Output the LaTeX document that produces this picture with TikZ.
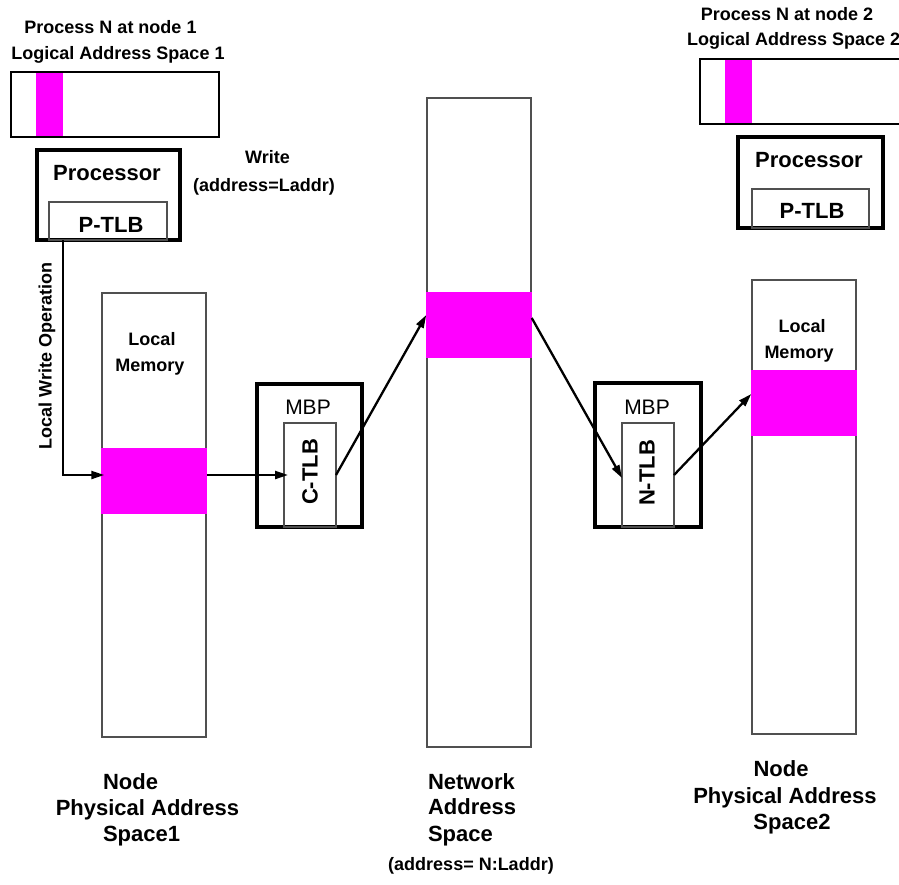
\documentclass[tikz,border=0pt]{standalone}
\usepackage{fontspec}
\setmainfont{Liberation Sans}
\usetikzlibrary{arrows.meta}
\definecolor{hot}{RGB}{255,0,255}
\definecolor{rim}{RGB}{80,80,80}

\begin{document}
\begin{tikzpicture}[x=1pt,y=-1pt,
  every node/.style={inner sep=0pt,outer sep=0pt},
  lbl/.style={font=\fontsize{18}{22}\selectfont\bfseries,anchor=base},
  big/.style={font=\fontsize{22}{26}\selectfont\bfseries,anchor=base},
  mbptext/.style={font=\fontsize{21}{25}\selectfont,anchor=base},
  column/.style={draw=rim,line width=1.7pt},
  strip/.style={fill=hot},
  thickbox/.style={draw=black,line width=3.3pt},
  thinbox/.style={draw=rim,line width=1.7pt},
  arr/.style={-{Triangle[length=13pt,width=8pt]},line width=2.3pt}
]
\useasboundingbox (0,0) rectangle (899,884);

% logical address spaces
\node[strip,minimum width=27pt,minimum height=65pt] (lmag1) at (49.5,104.5) {};
\node[draw=black,line width=1.5pt,minimum width=208pt,minimum height=65pt] (las1) at (115,104.5) {};
\node[strip,minimum width=27pt,minimum height=65pt] (lmag2) at (738.5,91.5) {};
\node[draw=black,line width=1.5pt,minimum width=210pt,minimum height=65pt] (las2) at (805,91.5) {};

\node[lbl] (t1a) at (110.5,33) {Process N at node 1};
\node[lbl] (t1b) at (118,59) {Logical Address Space 1};
\node[lbl] (t2a) at (787,20) {Process N at node 2};
\node[lbl,anchor=base west] (t2b) at (687,45) {Logical Address Space 2};

% processors
\node[thickbox,minimum width=143pt,minimum height=90pt] (proc1) at (108.5,195) {};
\node[thinbox,minimum width=118pt,minimum height=38pt] (ptlb1) at (108,221) {};
\node[big] (proc1t) at (107,180) {Processor};
\node[big] (ptlb1t) at (111,232) {P-TLB};

\node[thickbox,minimum width=145pt,minimum height=91pt] (proc2) at (810.5,182.5) {};
\node[thinbox,minimum width=117pt,minimum height=39pt] (ptlb2) at (810.5,208.5) {};
\node[big] (proc2t) at (809,167) {Processor};
\node[big] (ptlb2t) at (812,218) {P-TLB};

\node[lbl] (wr) at (267.5,163) {Write};
\node[lbl] (wra) at (264,191) {(address=Laddr)};

% memory columns
\node[column,minimum width=104pt,minimum height=444pt] (col1) at (154,515) {};
\node[strip,minimum width=105.5pt,minimum height=66pt] (mag1) at (154,481) {};
\node[column,minimum width=104pt,minimum height=649pt] (net) at (479,422.5) {};
\node[strip,minimum width=105.5pt,minimum height=66pt] (netmag) at (479,325) {};
\node[column,minimum width=104pt,minimum height=454pt] (col2) at (804,507) {};
\node[strip,minimum width=105.5pt,minimum height=66pt] (mag2) at (804,403) {};

\node[lbl] (lm1a) at (152,345) {Local};
\node[lbl] (lm1b) at (150,371) {Memory};
\node[lbl] (lm2a) at (802,332) {Local};
\node[lbl] (lm2b) at (799,358) {Memory};

% message buffer processors
\node[thickbox,minimum width=105pt,minimum height=143pt] (mbp1) at (309.5,455.5) {};
\node[thinbox,minimum width=52pt,minimum height=104pt] (ctlb) at (310,475) {};
\node[mbptext] (mbp1t) at (308,414) {MBP};
\node[font=\fontsize{22}{26}\selectfont\bfseries,rotate=90] (ctlbt) at (310,472) {C-TLB};

\node[thickbox,minimum width=106pt,minimum height=144pt] (mbp2) at (648,455) {};
\node[thinbox,minimum width=52pt,minimum height=104pt] (ntlb) at (648,475) {};
\node[mbptext] (mbp2t) at (647,414) {MBP};
\node[font=\fontsize{22}{26}\selectfont\bfseries,rotate=90] (ntlbt) at (647,473) {N-TLB};

% connectors
\draw[arr] ([xshift=14pt]ptlb1.south west) |- ([yshift=6pt,xshift=3pt]mag1.west);
\node[font=\fontsize{18}{22}\selectfont\bfseries,rotate=90] (lwo) at (47,356) {Local Write Operation};
\draw[arr] ([yshift=6pt]mag1.east) -- ([xshift=4pt]ctlb.west);
\draw[arr] (ctlb.east) -- ([yshift=10pt]netmag.west);
\draw[arr] ([yshift=7pt]netmag.east) -- ([yshift=-3pt]ntlb.west);
\draw[arr] (ntlb.east) -- ([yshift=9pt]mag2.west);

% captions
\node[big,anchor=base west] (c1a) at (103,789) {Node};
\node[big] (c1b) at (147.5,815) {Physical Address};
\node[big,anchor=base west] (c1c) at (103,841) {Space1};

\node[big,anchor=base west] (c2a) at (428,789) {Network};
\node[big,anchor=base west] (c2b) at (428,814) {Address};
\node[big,anchor=base west] (c2c) at (428,841) {Space};
\node[lbl] (c2d) at (471,870) {(address= N:Laddr)};

\node[big] (c3a) at (781,776) {Node};
\node[big] (c3b) at (785,803) {Physical Address};
\node[big] (c3c) at (792,829) {Space2};
\end{tikzpicture}
\end{document}
